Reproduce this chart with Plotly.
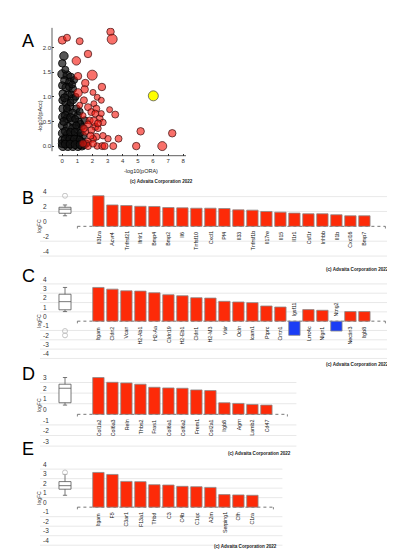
import numpy as np
import plotly.graph_objects as go

W, H = 395, 550
FONT = "Liberation Sans, Arial, Helvetica, sans-serif"

# ---------------- Panel A data ----------------
red_x = [0.00, 0.31, 1.15, 3.19, 3.30, 1.70, 0.93, 1.98, 1.04, 1.52, 2.62, 1.48, 1.04, 2.03, 1.43,
         2.31, 2.58, 2.09, 1.70, 2.25, 3.13, 3.50, 1.92, 2.18, 2.47, 1.81, 2.09, 2.69, 1.70, 2.18,
         2.36, 1.92, 5.18, 7.27, 3.72, 3.02, 2.69, 2.25, 2.03, 1.70, 1.70, 2.31, 2.64, 2.80, 3.37,
         4.89, 6.61, 1.37, 2.03, 1.52, 1.87, 1.43, 2.36, 2.58, 1.37, 1.15]
red_y = [2.15, 2.20, 2.13, 2.32, 2.17, 1.87, 1.73, 1.44, 1.42, 1.28, 1.20, 1.15, 1.08, 1.09, 0.93,
         0.99, 0.93, 0.86, 0.79, 0.76, 0.74, 0.64, 0.69, 0.66, 0.56, 0.52, 0.50, 0.48, 0.44, 0.39,
         0.36, 0.32, 0.30, 0.26, 0.15, 0.15, 0.21, 0.19, 0.15, 0.09, 0.00, 0.00, 0.00, 0.00, 0.00,
         0.00, 0.00, 0.05, 0.05, 0.29, 0.21, 0.36, 0.46, 0.66, 0.62, 0.83]
red_s = [8, 7, 7, 7.5, 10, 7.5, 8.5, 10, 7.5, 7.5, 7.5, 7.5, 8.5, 6, 7,
         6, 6, 6, 7, 7, 6, 7, 7, 7, 7, 7, 8.5, 6.5, 7, 7,
         6.5, 7, 7.5, 7.5, 7, 6.5, 6.5, 7, 7, 7, 7, 6.5, 7, 7, 7,
         7.5, 9, 7, 7, 7, 7, 7, 7, 6, 6, 6]

black_x = [0.11, 0.00, 0.00, 0.33, 0.55, 0.15, 0.48, 0.78, 0.00, 0.26, 0.70, 0.04, 0.37, 0.70, 0.00,
           0.26, 0.48, 0.93, 0.04, 0.37, 0.70, 1.04, 0.04, 0.33, 0.70, 1.08, 1.48, 0.04, 0.37, 0.70,
           1.04, 1.30, 0.04, 0.37, 0.70, 1.04, 1.37, 0.04, 0.33, 0.64, 0.93, 1.26, 1.59, 0.04, 0.37,
           0.70, 1.04, 1.30, 0.00, 0.20, 0.45, 0.15, 0.55, 0.20, 0.55, 0.85, 0.20, 0.55, 0.85, 1.20,
           0.20, 0.50, 0.80, 1.15, 0.20, 0.52, 0.85, 1.18, 1.45, 0.60, 0.88, 1.15, 1.20, 0.10, 0.30,
           0.65, 0.92]
black_y = [1.83, 1.68, 1.46, 1.44, 1.40, 1.33, 1.30, 1.34, 1.23, 1.19, 1.16, 1.06, 1.03, 0.95, 0.93,
           0.88, 0.81, 0.76, 0.76, 0.69, 0.66, 0.62, 0.59, 0.56, 0.50, 0.49, 0.52, 0.42, 0.39, 0.36,
           0.34, 0.39, 0.26, 0.23, 0.21, 0.19, 0.21, 0.12, 0.09, 0.07, 0.07, 0.09, 0.05, 0.00, 0.00,
           0.00, 0.00, 0.00, 0.05, 1.55, 1.20, 0.98, 0.88, 0.62, 0.58, 0.55, 0.30, 0.28, 0.28, 0.27,
           0.14, 0.14, 0.14, 0.13, 0.04, 0.04, 0.03, 0.03, 0.02, 1.05, 1.00, 0.70, 0.45, 0.50, 0.77,
           1.25, 0.42]
black_s = [8.5, 7.5, 9, 8.5, 8, 8, 8, 7, 7.5, 8.5, 7.5, 8, 8.5, 9, 7,
           8.5, 8.5, 7.5, 8, 9, 8.5, 7.5, 8.5, 8.5, 9, 8, 7.5, 9, 9, 8.5,
           8.5, 7, 9, 9, 9, 8.5, 7.5, 9, 9, 9, 9, 8, 7, 9, 9,
           9, 9, 8, 8, 7, 7, 8, 7, 8, 8, 7, 8, 8, 8, 7,
           8, 8, 8, 7, 8, 8, 8, 8, 7, 7, 7, 7, 7, 8, 7,
           7, 7]

yellow_x = [6.02]
yellow_y = [1.02]
yellow_s = [10]

a_xticks = [0, 1, 2, 3, 4, 5, 6, 7, 8]
a_yticks = [0.0, 0.5, 1.0, 1.5, 2.0]

# ---------------- Panels B-E data ----------------
b_genes = ["Il31ra", "Acvr4", "Tnfrsf21", "Ifnlr1", "Bmp4", "Bmp2", "Il6", "Tnfsf10", "Cxcl1", "Pf4",
           "Il33", "Tnfrsf1b", "Il17re", "Il15", "Il1r1", "Csf1r", "Inhbb", "Il1b", "Cxcl16", "Bmp7"]
b_logfc = [4.12, 2.88, 2.80, 2.70, 2.67, 2.53, 2.49, 2.44, 2.44, 2.40,
           2.22, 2.18, 2.00, 1.91, 1.78, 1.69, 1.69, 1.56, 1.42, 1.42]
b_ticks = [-4, -2, 0, 2, 4]

c_genes = ["Itgam", "Cldn2", "Vcan", "H2-Ab1", "H2-Aa", "Cldn19", "H2-Eb1", "Cldn1", "H2-M3", "Vsir",
           "Ocln", "Icam1", "Ptprc", "Cntn1", "Igsf11", "Lrrc4c", "Nlgn1", "Ntng2", "Nectin3", "Itgb8"]
c_logfc = [3.62, 3.44, 3.26, 3.23, 3.05, 2.84, 2.73, 2.52, 2.48, 2.13,
           2.06, 1.99, 1.63, 1.52, -1.52, 1.24, 1.17, -1.06, 1.03, 1.03]
c_ticks = [-4, -3, -2, -1, 0, 1, 2, 3, 4]

d_genes = ["Col1a2", "Col6a3", "Reln", "Thbs2", "Fras1", "Col6a1", "Col6a2", "Frem1", "Col2a1",
           "Itgb8", "Agrn", "Lamb2", "Cd47"]
d_logfc = [3.47, 3.02, 2.96, 2.84, 2.55, 2.49, 2.46, 2.30, 2.24, 1.09, 1.03, 0.93, 0.87]
d_ticks = [-3, -2, -1, 0, 1, 2, 3]

e_genes = ["Itgam", "F5", "C3ar1", "F13a1", "Thbd", "C3", "C4b", "C1qc", "A2m", "Serping1", "Cfh", "C1ra"]
e_logfc = [3.65, 3.44, 2.71, 2.68, 2.36, 2.33, 2.19, 2.15, 2.08, 1.32, 1.29, 1.25]
e_ticks = [-4, -3, -2, -1, 0, 1, 2, 3, 4]

copyright_text = "(c) Advaita Corporation 2022"


def fx(p):
    return p / W


def fy(p):
    return 1 - p / H


fig = go.Figure()
annotations = []
shapes = []
layout = {}

# ---------------- Panel A ----------------
ax_l, ax_r, ay_t, ay_b = 44, 178, 15, 144
fig.add_trace(go.Scatter(x=black_x, y=black_y, mode="markers", xaxis="x", yaxis="y",
                         marker=dict(size=black_s, color="rgba(20,20,20,0.72)", opacity=1,
                                     line=dict(color="black", width=0.8))))
fig.add_trace(go.Scatter(x=red_x, y=red_y, mode="markers", xaxis="x", yaxis="y",
                         marker=dict(size=red_s, color="rgba(245,25,15,0.62)", opacity=1,
                                     line=dict(color="rgba(60,15,15,0.9)", width=0.8))))
fig.add_trace(go.Scatter(x=yellow_x, y=yellow_y, mode="markers", xaxis="x", yaxis="y",
                         marker=dict(size=yellow_s, color="#ffff00", opacity=1,
                                     line=dict(color="#555", width=0.8))))
layout["xaxis"] = dict(domain=[fx(ax_l), fx(ax_r)], range=[-0.68, 8.18], anchor="y",
                       tickvals=a_xticks, ticktext=[str(v) for v in a_xticks],
                       ticks="inside", ticklen=2, tickcolor="#333", showgrid=False, zeroline=False,
                       showline=False, tickfont=dict(size=6, color="#333", family=FONT))
layout["yaxis"] = dict(domain=[fy(ay_b), fy(ay_t)], range=[-0.195, 2.40], anchor="x",
                       tickvals=a_yticks, ticktext=["%.1f" % v for v in a_yticks],
                       ticks="inside", ticklen=2, tickcolor="#333", showgrid=False, zeroline=False,
                       showline=False, tickfont=dict(size=6, color="#333", family=FONT))
shapes.append(dict(type="line", xref="x domain", yref="y domain", x0=0.05, x1=1, y0=0, y1=0,
                   line=dict(color="#333", width=0.8)))
shapes.append(dict(type="line", xref="x domain", yref="y domain", x0=0, x1=0, y0=0.035, y1=1,
                   line=dict(color="#333", width=0.8)))
annotations.append(dict(text="-log10(pAcc)", x=fx(27), y=fy(87), xref="paper", yref="paper",
                        textangle=-90, showarrow=False, font=dict(size=5.5, color="#222", family=FONT)))
annotations.append(dict(text="-log10(pORA)", x=fx(114), y=fy(154), xref="paper", yref="paper",
                        showarrow=False, font=dict(size=5.5, color="#222", family=FONT)))
annotations.append(dict(text="<b>" + copyright_text + "</b>", x=fx(153), y=fy(165), xref="paper",
                        yref="paper", showarrow=False, font=dict(size=4.6, color="#222", family=FONT)))
annotations.append(dict(text="A", x=fx(11.5), y=fy(16.5), xref="paper", yref="paper", xanchor="left",
                        showarrow=False, font=dict(size=18, color="black", family=FONT)))

# ---------------- Bar panels ----------------
BAR0 = 90.4      # px of first bar centre
PITCH = 14.0     # px per category
LEFT = 32.0      # px of plot left edge
BOXPX = 57.0     # px of box plot centre

panels = [
    dict(letter="B", genes=b_genes, vals=b_logfc, ticks=b_ticks, zero=215.3, unit=7.5, rng=[-4.5, 4.5], ly=175),
    dict(letter="C", genes=c_genes, vals=c_logfc, ticks=c_ticks, zero=311.0, unit=9.4, rng=[-4.4, 4.3], ly=265.5),
    dict(letter="D", genes=d_genes, vals=d_logfc, ticks=d_ticks, zero=405.0, unit=10.7, rng=[-3.4, 3.6], ly=364),
    dict(letter="E", genes=e_genes, vals=e_logfc, ticks=e_ticks, zero=498.7, unit=9.6, rng=[-4.4, 4.3], ly=452),
]

for k, p in enumerate(panels):
    idx = k + 2
    xa, ya = "x%d" % idx, "y%d" % idx
    n = len(p["genes"])
    x_left = (LEFT - BAR0) / PITCH
    x_right = n + 0.5 + 9.0 / PITCH
    right_px = BAR0 + PITCH * x_right
    top_px = p["zero"] - p["rng"][1] * p["unit"]
    bot_px = p["zero"] - p["rng"][0] * p["unit"]
    vals = np.array(p["vals"], dtype=float)

    layout["xaxis%d" % idx] = dict(domain=[fx(LEFT), fx(right_px)], range=[x_left, x_right], anchor=ya,
                                   showgrid=False, zeroline=False, showline=False, showticklabels=False,
                                   ticks="")
    layout["yaxis%d" % idx] = dict(domain=[fy(bot_px), fy(top_px)], range=p["rng"], anchor=xa,
                                   showgrid=False, zeroline=False, showline=False,
                                   tickvals=p["ticks"], ticktext=[str(t) for t in p["ticks"]],
                                   ticklabelposition="inside top", ticklabeloverflow="allow",
                                   ticks="", tickfont=dict(size=6.5, color="#333", family=FONT))
    # grid lines (no line at zero; zero is the dotted baseline)
    for t in p["ticks"]:
        if t == 0:
            continue
        shapes.append(dict(type="line", xref=xa + " domain", yref=ya, x0=0, x1=1, y0=t, y1=t,
                           layer="below", line=dict(color="#e2e2e2", width=0.8)))
    # dotted baseline with end ticks
    shapes.append(dict(type="line", xref=xa, yref=ya, x0=-1.5, x1=n + 0.5, y0=0, y1=0, layer="below",
                       line=dict(color="#666", width=0.9, dash="dot")))
    for xe in (-1.5, n + 0.5):
        shapes.append(dict(type="line", xref=xa, yref=ya, x0=xe, x1=xe, y0=0, y1=-2.2 / p["unit"],
                           line=dict(color="#666", width=0.8)))

    colors = ["#fd2a08" if v >= 0 else "#1a3df5" for v in vals]
    fig.add_trace(go.Bar(x=list(range(n)), y=vals, width=0.81, xaxis=xa, yaxis=ya,
                         marker=dict(color=colors, line=dict(color="#8a8a8a", width=0.8))))

    # box plot of the values (whiskers at 1.0 * IQR)
    q1, med, q3 = np.percentile(vals, [25, 50, 75])
    iqr = q3 - q1
    lo_f, hi_f = q1 - 1.0 * iqr, q3 + 1.0 * iqr
    inside = vals[(vals >= lo_f) & (vals <= hi_f)]
    outl = vals[(vals < lo_f) | (vals > hi_f)]
    xb = (BOXPX - BAR0) / PITCH
    fig.add_trace(go.Box(x=[xb], q1=[q1], median=[med], q3=[q3], lowerfence=[inside.min()],
                         upperfence=[inside.max()], width=0.86, whiskerwidth=0.35,
                         fillcolor="white", line=dict(color="#555", width=0.8),
                         boxpoints=False, xaxis=xa, yaxis=ya))
    if len(outl):
        fig.add_trace(go.Scatter(x=[xb] * len(outl), y=outl, mode="markers", xaxis=xa, yaxis=ya,
                                 marker=dict(symbol="circle-open", size=5, color="#c4c4c4",
                                             line=dict(width=1))))

    # gene labels
    for i, (g, v) in enumerate(zip(p["genes"], vals)):
        annotations.append(dict(text=g, x=i, y=0, xref=xa, yref=ya, textangle=-90, showarrow=False,
                                xanchor="center", yanchor="top" if v >= 0 else "bottom",
                                yshift=-3 if v >= 0 else 3,
                                font=dict(size=5.3, color="#111", family=FONT)))
    annotations.append(dict(text="logFC", x=fx(26.5), y=fy(p["zero"]), xref="paper", yref="paper",
                            textangle=-90, showarrow=False,
                            font=dict(size=5, color="#222", family=FONT)))
    annotations.append(dict(text="<b>" + copyright_text + "</b>", x=fx(right_px - 3),
                            y=fy(p["zero"] + 44), xref="paper", yref="paper", xanchor="right",
                            showarrow=False, font=dict(size=4.6, color="#222", family=FONT)))
    annotations.append(dict(text=p["letter"], x=fx(11.5), y=fy(p["ly"]), xref="paper", yref="paper",
                            xanchor="left", showarrow=False,
                            font=dict(size=18, color="black", family=FONT)))

fig.update_layout(width=W, height=H, margin=dict(l=0, r=0, t=0, b=0), showlegend=False,
                  paper_bgcolor="white", plot_bgcolor="white", annotations=annotations,
                  shapes=shapes, font=dict(family=FONT), **layout)

fig.write_html("out.html")
